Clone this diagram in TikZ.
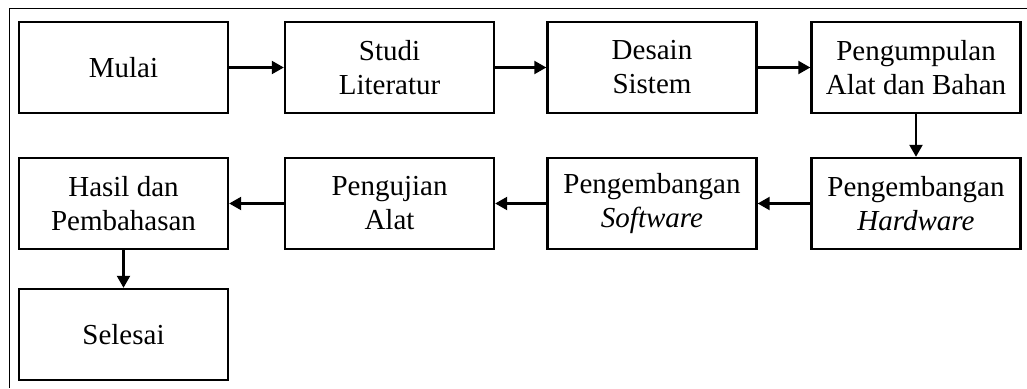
\documentclass[tikz,border=0pt]{standalone}
\usepackage{fontspec}
\setmainfont{Liberation Serif}
\usetikzlibrary{arrows.meta}
\begin{document}
\begin{tikzpicture}[x=1pt,y=-1pt,
  box/.style={draw, line width=2.4pt, minimum width=209pt, minimum height=91pt, align=center, inner sep=0pt,
    font=\fontsize{29}{34}\selectfont},
  conn/.style={line width=2.2pt, -{Triangle[length=12pt,width=13pt]}},
  frame/.style={line width=1.5pt}]
\useasboundingbox (0,0) rectangle (1027,388);
\fill[white] (0,0) rectangle (1027,388);
\coordinate (ftr) at (1027,8.5);
\coordinate (ftl) at (9.5,8.5);
\coordinate (fbl) at (9.5,388);
\draw[frame] (ftr) -- (ftl) -- (fbl);
\node[box] (mulai) at (123.5,67.5) {Mulai};
\node[box] (studi) at (389.5,67.5) {Studi\\Literatur};
\node[box] (desain) at (652,67.5) {Desain\\Sistem};
\node[box] (kumpul) at (916,67.5) {Pengumpulan\\Alat dan Bahan};
\node[box] (hw) at (916,203.5) {Pengembangan\\\textit{Hardware}};
\node[box] (sw) at (652,203.5) {Pengembangan\\\textit{Software}};
\node[box] (uji) at (389.5,203.5) {Pengujian\\Alat};
\node[box] (hasil) at (123.5,203.5) {Hasil dan\\Pembahasan};
\node[box] (selesai) at (123.5,334.5) {Selesai};
\draw[conn] (mulai) -- (studi);
\draw[conn] (studi) -- (desain);
\draw[conn] (desain) -- (kumpul);
\draw[conn] (kumpul) -- (hw);
\draw[conn] (hw) -- (sw);
\draw[conn] (sw) -- (uji);
\draw[conn] (uji) -- (hasil);
\draw[conn] (hasil) -- (selesai);
\end{tikzpicture}
\end{document}
